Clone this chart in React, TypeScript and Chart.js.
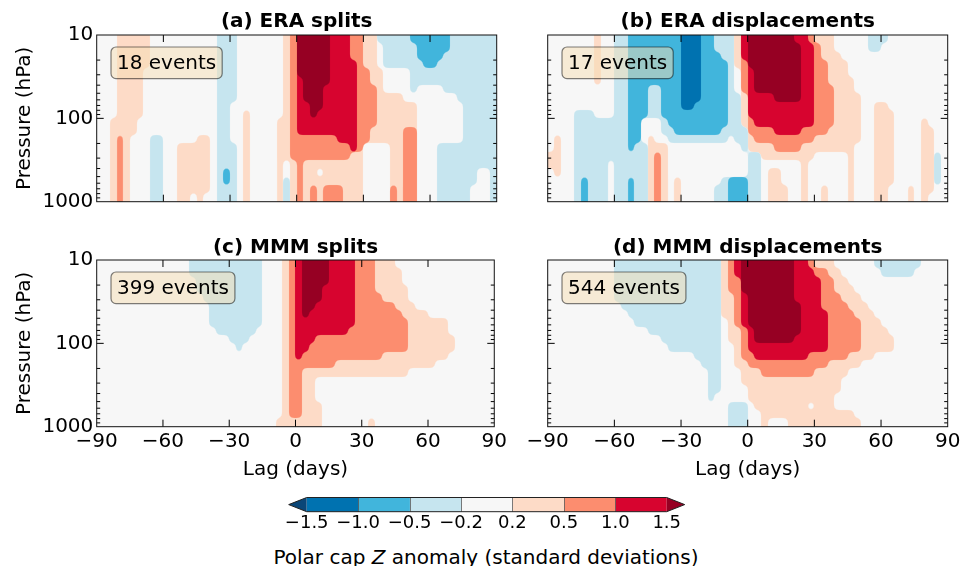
import React, { useEffect, useRef } from "react";
import { Chart, registerables } from "chart.js";

Chart.register(...registerables);
Chart.defaults.font.family = '"DejaVu Sans", sans-serif';
Chart.defaults.color = "#000";

// ---------------- data ----------------
// lag bin edges (days)
const LAG_EDGES = [
  -90, -87, -84, -81, -78, -75, -72, -69, -66, -63, -60, -57, -54, -51, -48, -45, -42, -39, -36, -33,
  -30, -27, -24, -21, -18, -15, -12, -9, -6, -3, 0, 3, 6, 9, 12, 15, 18, 21, 24, 27,
  30, 33, 36, 39, 42, 45, 48, 51, 54, 57, 60, 63, 66, 69, 72, 75, 78, 81, 84, 87, 90,
];
// pressure bin edges (hPa), top to bottom
const PRESSURE_EDGES = [
  10, 12.59, 15.85, 19.95, 25.12, 31.62, 39.81, 50.12, 63.1, 79.43, 100,
  125.9, 158.5, 199.5, 251.2, 316.2, 398.1, 501.2, 631, 794.3, 1000,
];
const LAG_TICKS = [-90, -60, -30, 0, 30, 60, 90];
const PRESSURE_TICKS = [10, 20, 30, 40, 50, 60, 70, 80, 90, 100, 200, 300, 400, 500, 600, 700, 800, 900, 1000];
const PRESSURE_LABELED = [10, 100, 1000];

// anomaly classes: D <-1.5, C -1.5..-1, B -1..-0.5, A -0.5..-0.2, . neutral, a 0.2..0.5, b 0.5..1, c 1..1.5, d >1.5
const LEVEL_CODES = ["D", "C", "B", "A", ".", "a", "b", "c", "d"];
const LEVEL_COLORS = ["#0a4677", "#0072b0", "#41b5dc", "#c6e5ef", "#f7f7f7", "#fddbc7", "#fc8d6f", "#d7042f", "#960023"];
const CBAR_TICK_LABELS = ["\u22121.5", "\u22121.0", "\u22120.5", "\u22120.2", "0.2", "0.5", "1.0", "1.5"];

const PANEL_TITLES = ["(a) ERA splits", "(b) ERA displacements", "(c) MMM splits", "(d) MMM displacements"];
const EVENT_COUNTS = [18, 17, 399, 544];

// each entry = one lag column, run-length coded from 10 hPa (top) down to 1000 hPa
const ERA_SPLITS = [
  "20.", "20.", "10. 10a", "12a 8b", "20a", "12a 8.", "10a 10.", "4a 16.", "12. 8A", "12. 8A",
  "20.", "20.", "13. 7a", "13. 7a", "13. 6a 1.", "12. 8a", "12. 7a 1.", "20.", "20A", "16A 2B 2A",
  "8A 5. 7A", "20.", "9. 11a", "20.", "20.", "20.", "20.", "10. 10a", "15a 2. 3A", "15b 5a",
  "5d 7c 8b", "8d 4c 3b 5a", "10d 2c 3b 3a 2b", "9d 3c 3b 1a 1. 3a", "6d 6c 3b 3a 2b", "12c 3b 3a 2b", "13c 2b 3a 2b", "13c 2b 5a", "3b 11c 6a", "14b 6a",
  "4a 9b 7.", "6a 5b 2a 7.", "1A 3. 9a 7.", "4A 3. 6a 7.", "4A 3. 11a 2b", "4A 3. 13a", "4A 4. 3a 9b", "1B 6A 1. 3a 9b", "3B 3A 14.", "4B 2A 14.",
  "4B 2A 14.", "3B 3A 7. 7A", "2B 5A 6. 7A", "7A 6. 7A", "8A 5. 7A", "20A", "18A 2.", "16A 4.", "16A 4.", "20A",
];
const ERA_DISPLACEMENTS = [
  "14. 2a 4.", "12. 5a 3.", "20.", "20.", "9. 11A", "9. 8A 3B", "9. 11A", "6a 4. 10A", "10. 10A", "10. 5A 5.",
  "20A", "20A", "14B 3A 3B", "13B 7A", "10B 3. 7A", "6B 4A 2. 8a", "6B 4A 3. 1a 6b", "10B 2A 1. 7a", "11B 2A 7.", "12B 1A 4. 3a",
  "9C 3B 1A 7.", "9C 3B 1A 7.", "8C 4B 1A 7.", "12B 1A 7.", "12B 1A 7.", "2A 10B 1A 5. 2A", "3A 8B 2A 4. 3A", "12A 5. 3B", "4a 3. 6A 4. 3B", "3c 4b 4a 3A 3. 3B",
  "4d 6c 2b 2a 6A", "7d 4c 2b 1a 6A", "7d 4c 2b 2a 5.", "7d 4c 2b 2a 1. 4a", "8d 4c 2b 1a 1. 4a", "8d 4c 2b 1a 3. 2a", "8d 4c 2b 1a 5.", "1c 7d 4c 2b 1a 5.", "11c 2b 7a", "1b 10c 2b 2a 5.",
  "1a 11b 2a 6.", "3a 9b 2a 4. 2a", "6a 5b 3a 6.", "2. 12a 6.", "3. 11a 6.", "5. 15a", "7. 6a 7.", "20.", "2A 18.", "2A 6. 12a",
  "1A 7. 12a", "9. 9a 2.", "20.", "20.", "18. 2a", "20.", "10. 10a", "11. 8a 1.", "14. 4A 2.", "20.",
];
const MMM_SPLITS = [
  "20.", "20.", "20.", "20.", "20.", "20.", "20.", "20.", "20.", "20.",
  "20.", "20.", "20.", "20.", "2A 18.", "4A 16.", "5A 15.", "8A 12.", "9A 11.", "9A 11.",
  "10A 10.", "11A 9.", "10A 10.", "9A 11.", "8A 12.", "20.", "20.", "19. 1a", "20a", "19b 1a",
  "12c 7b 1a", "7d 4c 2b 7a", "6d 4c 3b 7a", "5d 4c 4b 1a 3. 3a", "3d 6c 4b 1a 6.", "9c 4b 1a 6.", "9c 3b 2a 6.", "9c 3b 2a 6.", "8c 4b 2a 6.", "12b 2a 6.",
  "12b 2a 6.", "12b 2a 5. 1a", "4a 8b 2a 6.", "5a 6b 3a 6.", "5a 6b 3a 6.", "1. 5a 5b 3a 6.", "3. 4a 4b 3a 6.", "5. 8a 7.", "6. 7a 7.", "6. 7a 7.",
  "7. 6a 7.", "7. 5a 8.", "7. 5a 8.", "9. 2a 9.", "20.", "20.", "20.", "20.", "20.", "20.",
];
const MMM_DISPLACEMENTS = [
  "20.", "20.", "20.", "20.", "20.", "20.", "20.", "20.", "20.", "20.",
  "5A 15.", "6A 14.", "7A 13.", "8A 12.", "8A 12.", "9A 11.", "9A 11.", "10A 10.", "11A 9.", "11A 9.",
  "11A 9.", "11A 9.", "12A 8.", "13A 7.", "17A 3.", "16A 4.", "7a 13.", "4b 6a 7. 3A", "2c 6b 5a 4. 3A", "4d 4c 4b 3a 2. 3A",
  "8d 3c 2b 4a 3.", "10d 2c 1b 5a 2.", "10d 2c 2b 6a", "10d 2c 2b 5a 1.", "10d 2c 2b 5a 1.", "10d 2c 2b 5a 1.", "10d 2c 2b 6a", "5c 4d 3c 2b 6a", "12c 2b 6a", "1b 10c 3b 3a 1. 2a",
  "1a 1b 9c 2b 7a", "1a 5b 5c 2b 7a", "2a 10b 8a", "1. 3a 8b 4a 2. 2a", "2. 3a 7b 2a 4. 2a", "3. 3a 5b 2a 5. 2a", "4. 3a 4b 2a 6. 1a", "5. 7a 8.", "6. 6a 8.", "1A 6. 4a 9.",
  "2A 6. 3a 9.", "2A 7. 2a 9.", "2A 18.", "2A 18.", "2A 18.", "1A 19.", "20.", "20.", "20.", "20.",
];

// ---------------- helpers ----------------
function decodeColumns(cols: string[]): string[][] {
  return cols.map((s) => {
    const out: string[] = [];
    s.trim().split(/\s+/).forEach((tok) => {
      const m = tok.match(/^(\d+)(.)$/);
      if (m) for (let k = 0; k < parseInt(m[1], 10); k++) out.push(m[2]);
    });
    return out;
  });
}

function hexToRgb(h: string): number[] {
  const n = parseInt(h.slice(1), 16);
  return [(n >> 16) & 255, (n >> 8) & 255, n & 255];
}

const fmtLag = (v: number) => (v < 0 ? "\u2212" + Math.abs(v) : String(v));

// paints the binned field: cells placed via the chart scales, each class boundary softened like a filled contour
function paintField(chart: any, grid: string[][]) {
  const { ctx, chartArea: ca, scales } = chart;
  const x = scales.x;
  const y = scales.y;
  const W = chart.width;
  const H = chart.height;
  const ext = 16;
  const nx = LAG_EDGES.length - 1;
  const ny = PRESSURE_EDGES.length - 1;
  const xe = LAG_EDGES.map((v, i) =>
    i === 0 ? Math.floor(ca.left) - ext : i === nx ? Math.ceil(ca.right) + ext : Math.round(x.getPixelForValue(v))
  );
  const ye = PRESSURE_EDGES.map((v, j) =>
    j === 0 ? Math.floor(ca.top) - ext : j === ny ? Math.ceil(ca.bottom) + ext : Math.round(y.getPixelForValue(v))
  );
  const mask = document.createElement("canvas");
  mask.width = W;
  mask.height = H;
  const mctx = mask.getContext("2d") as CanvasRenderingContext2D;
  const blur = document.createElement("canvas");
  blur.width = W;
  blur.height = H;
  const bctx = blur.getContext("2d", { willReadFrequently: true }) as CanvasRenderingContext2D;
  const layer = document.createElement("canvas");
  layer.width = W;
  layer.height = H;
  const lctx = layer.getContext("2d") as CanvasRenderingContext2D;

  ctx.save();
  ctx.beginPath();
  ctx.rect(ca.left, ca.top, ca.width, ca.height);
  ctx.clip();
  ctx.fillStyle = LEVEL_COLORS[4];
  ctx.fillRect(ca.left, ca.top, ca.width, ca.height);
  const order = [5, 6, 7, 8, 3, 2, 1, 0];
  for (const lv of order) {
    mctx.clearRect(0, 0, W, H);
    mctx.fillStyle = "#000";
    let any = false;
    grid.forEach((col, i) =>
      col.forEach((code, j) => {
        const k = LEVEL_CODES.indexOf(code);
        if (k < 0) return;
        const inside = lv > 4 ? k >= lv : k <= lv;
        if (inside) {
          any = true;
          mctx.fillRect(xe[i], ye[j], xe[i + 1] - xe[i], ye[j + 1] - ye[j]);
        }
      })
    );
    if (!any) continue;
    bctx.clearRect(0, 0, W, H);
    bctx.filter = "blur(2.8px)";
    bctx.drawImage(mask, 0, 0);
    bctx.filter = "none";
    const img = bctx.getImageData(0, 0, W, H);
    const d = img.data;
    const [r, g, b] = hexToRgb(LEVEL_COLORS[lv]);
    for (let p = 0; p < d.length; p += 4) {
      const a = d[p + 3];
      const t = Math.max(0, Math.min(255, (a - 128) * 6 + 128));
      d[p] = r;
      d[p + 1] = g;
      d[p + 2] = b;
      d[p + 3] = t;
    }
    lctx.clearRect(0, 0, W, H);
    lctx.putImageData(img, 0, 0);
    ctx.drawImage(layer, 0, 0);
  }
  ctx.restore();
}

type PanelSpec = {
  idx: number;
  cols: string[];
  left: number;
  top: number;
  width: number;
  height: number;
  yWidth: number;
  xHeight: number;
  padRight: number;
  titlePad: { top: number; bottom: number };
  showX: boolean;
  showY: boolean;
};

const PANELS: PanelSpec[] = [
  { idx: 0, cols: ERA_SPLITS, left: 0, top: 0, width: 510, height: 222, yWidth: 96.7, xHeight: 20.3, padRight: 13.3, titlePad: { top: 10, bottom: 1 }, showX: false, showY: true },
  { idx: 1, cols: ERA_DISPLACEMENTS, left: 500, top: 0, width: 472, height: 222, yWidth: 47.7, xHeight: 20.3, padRight: 24.3, titlePad: { top: 10, bottom: 1 }, showX: false, showY: false },
  { idx: 2, cols: MMM_SPLITS, left: 0, top: 225, width: 510, height: 257, yWidth: 96.7, xHeight: 55.3, padRight: 13.3, titlePad: { top: 10.5, bottom: 0.5 }, showX: true, showY: true },
  { idx: 3, cols: MMM_DISPLACEMENTS, left: 500, top: 225, width: 472, height: 257, yWidth: 47.7, xHeight: 55.3, padRight: 24.3, titlePad: { top: 10.5, bottom: 0.5 }, showX: true, showY: false },
];

function Panel({ spec }: { spec: PanelSpec }) {
  const ref = useRef<HTMLCanvasElement>(null);
  useEffect(() => {
    const grid = decodeColumns(spec.cols);
    const cellsPlugin = {
      id: "cells",
      beforeDatasetsDraw(chart: any) {
        paintField(chart, grid);
      },
    };
    const framePlugin = {
      id: "frame",
      afterDatasetsDraw(chart: any) {
        const { ctx, chartArea: ca, scales } = chart;
        const x = scales.x;
        const y = scales.y;
        ctx.save();
        ctx.strokeStyle = "#000";
        ctx.lineWidth = 1;
        ctx.beginPath();
        for (const t of x.ticks) {
          const px = x.getPixelForValue(t.value);
          if (px <= ca.left + 0.5 || px >= ca.right - 0.5) continue;
          ctx.moveTo(px, ca.bottom);
          ctx.lineTo(px, ca.bottom - 7);
          ctx.moveTo(px, ca.top);
          ctx.lineTo(px, ca.top + 7);
        }
        for (const t of y.ticks) {
          const py = y.getPixelForValue(t.value);
          if (py <= ca.top + 0.5 || py >= ca.bottom - 0.5) continue;
          const len = PRESSURE_LABELED.includes(t.value) ? 7 : 3.5;
          ctx.moveTo(ca.left, py);
          ctx.lineTo(ca.left + len, py);
          ctx.moveTo(ca.right, py);
          ctx.lineTo(ca.right - len, py);
        }
        ctx.stroke();
        ctx.strokeStyle = "#111";
        ctx.strokeRect(ca.left, ca.top, ca.width, ca.height);
        // events box
        const text = EVENT_COUNTS[spec.idx] + " events";
        ctx.font = '20px "DejaVu Sans", sans-serif';
        const w = ctx.measureText(text).width;
        const bx = ca.left + 14.3;
        const by = ca.top + 12;
        const bw = w + 12;
        const bh = 31.6;
        ctx.beginPath();
        ctx.roundRect(bx, by, bw, bh, 5);
        ctx.fillStyle = "rgba(245,222,179,0.5)";
        ctx.fill();
        ctx.strokeStyle = "rgba(0,0,0,0.5)";
        ctx.lineWidth = 1.2;
        ctx.stroke();
        ctx.fillStyle = "#000";
        ctx.textBaseline = "alphabetic";
        ctx.textAlign = "left";
        ctx.fillText(text, bx + 6, by + 21.6);
        ctx.restore();
      },
    };
    const chart = new Chart(ref.current as HTMLCanvasElement, {
      type: "scatter",
      data: { datasets: [{ data: [] }] },
      options: {
        animation: false,
        responsive: false,
        devicePixelRatio: 1,
        events: [],
        layout: { padding: { left: 0, right: spec.padRight, top: 0, bottom: 0 } },
        plugins: {
          legend: { display: false },
          tooltip: { enabled: false },
          title: {
            display: true,
            text: PANEL_TITLES[spec.idx],
            fullSize: false,
            font: { size: 20, weight: "bold" },
            color: "#000",
            padding: spec.titlePad,
          },
        },
        scales: {
          x: {
            type: "linear",
            min: -90,
            max: 90,
            afterBuildTicks: (s: any) => {
              s.ticks = LAG_TICKS.map((v) => ({ value: v }));
            },
            ticks: {
              display: spec.showX,
              autoSkip: false,
              maxRotation: 0,
              padding: 3,
              font: { size: 20 },
              color: "#000",
              callback: (v: any) => fmtLag(Number(v)),
            },
            grid: { display: false, drawTicks: false },
            border: { display: false },
            title: { display: spec.showX, text: "Lag (days)", font: { size: 20 }, color: "#000", padding: 0 },
            afterFit: (s: any) => {
              s.height = spec.xHeight;
            },
          },
          y: {
            type: "logarithmic",
            min: 10,
            max: 1000,
            reverse: true,
            afterBuildTicks: (s: any) => {
              s.ticks = PRESSURE_TICKS.map((v) => ({ value: v }));
            },
            ticks: {
              display: spec.showY,
              autoSkip: false,
              padding: 3.4,
              font: { size: 20 },
              color: "#000",
              callback: (v: any) => (PRESSURE_LABELED.includes(Number(v)) ? String(v) : ""),
            },
            grid: { display: false, drawTicks: false },
            border: { display: false },
            title: { display: spec.showY, text: "Pressure (hPa)", font: { size: 20 }, color: "#000", padding: { top: 12.5, bottom: 0 } },
            afterFit: (s: any) => {
              s.width = spec.yWidth;
            },
          },
        },
      } as any,
      plugins: [cellsPlugin, framePlugin],
    });
    return () => chart.destroy();
  }, [spec]);
  return (
    <canvas
      ref={ref}
      width={spec.width}
      height={spec.height}
      style={{ position: "absolute", left: spec.left, top: spec.top, width: spec.width, height: spec.height }}
    />
  );
}

function ColorBar() {
  const ref = useRef<HTMLCanvasElement>(null);
  useEffect(() => {
    const cbarPlugin = {
      id: "cbarDecor",
      afterDatasetsDraw(chart: any) {
        const { ctx, chartArea: ca, scales } = chart;
        const x = scales.x;
        const x0 = x.getPixelForValue(0);
        const x7 = x.getPixelForValue(LEVEL_COLORS.length - 2);
        const ext = 0.05 * (x7 - x0);
        const mid = (ca.top + ca.bottom) / 2;
        ctx.save();
        ctx.fillStyle = LEVEL_COLORS[0];
        ctx.beginPath();
        ctx.moveTo(x0, ca.top);
        ctx.lineTo(x0 - ext, mid);
        ctx.lineTo(x0, ca.bottom);
        ctx.closePath();
        ctx.fill();
        ctx.fillStyle = LEVEL_COLORS[LEVEL_COLORS.length - 1];
        ctx.beginPath();
        ctx.moveTo(x7, ca.top);
        ctx.lineTo(x7 + ext, mid);
        ctx.lineTo(x7, ca.bottom);
        ctx.closePath();
        ctx.fill();
        // boundary marks
        ctx.strokeStyle = "rgba(90,90,90,0.8)";
        ctx.lineWidth = 1;
        ctx.beginPath();
        for (let k = 1; k < LEVEL_COLORS.length - 2; k++) {
          const px = Math.round(x.getPixelForValue(k)) + 0.5;
          ctx.moveTo(px, ca.bottom);
          ctx.lineTo(px, ca.top);
        }
        ctx.stroke();
        // outline
        ctx.strokeStyle = "#222";
        ctx.lineWidth = 1;
        ctx.beginPath();
        ctx.moveTo(x0, ca.top);
        ctx.lineTo(x7, ca.top);
        ctx.lineTo(x7 + ext, mid);
        ctx.lineTo(x7, ca.bottom);
        ctx.lineTo(x0, ca.bottom);
        ctx.lineTo(x0 - ext, mid);
        ctx.closePath();
        ctx.stroke();
        ctx.restore();
      },
    };
    const bins = LEVEL_COLORS.slice(1, LEVEL_COLORS.length - 1);
    const chart = new Chart(ref.current as HTMLCanvasElement, {
      type: "bar",
      data: {
        labels: ["cbar"],
        datasets: bins.map((c) => ({
          data: [1],
          backgroundColor: c,
          borderWidth: 0,
          barPercentage: 1,
          categoryPercentage: 1,
          stack: "cb",
        })),
      },
      options: {
        animation: false,
        responsive: false,
        devicePixelRatio: 1,
        events: [],
        indexAxis: "y",
        layout: { padding: { left: 36.7, right: 33.3, top: 7.5, bottom: 0 } },
        plugins: { legend: { display: false }, tooltip: { enabled: false }, title: { display: false } },
        scales: {
          x: {
            type: "linear",
            min: 0,
            max: bins.length,
            stacked: true,
            afterBuildTicks: (s: any) => {
              s.ticks = CBAR_TICK_LABELS.map((_, k) => ({ value: k }));
            },
            ticks: {
              autoSkip: false,
              maxRotation: 0,
              padding: 3,
              font: { size: 18, lineHeight: 1 },
              color: "#000",
              callback: (v: any) => CBAR_TICK_LABELS[Number(v)],
            },
            grid: { display: false, drawTicks: false },
            border: { display: false },
            afterFit: (s: any) => {
              s.height = 22.3;
            },
          },
          y: { type: "category", display: false, stacked: true },
        },
      } as any,
      plugins: [cbarPlugin],
    });
    return () => chart.destroy();
  }, []);
  return (
    <canvas ref={ref} width={430} height={44} style={{ position: "absolute", left: 270, top: 490, width: 430, height: 44 }} />
  );
}

export default function App() {
  return (
    <div
      style={{
        position: "absolute",
        left: 0,
        top: 0,
        width: 972,
        height: 566,
        background: "#fff",
        overflow: "hidden",
        fontFamily: '"DejaVu Sans", sans-serif',
      }}
    >
      {PANELS.map((p) => (
        <Panel key={p.idx} spec={p} />
      ))}
      <ColorBar />
      <div
        style={{
          position: "absolute",
          left: 0,
          top: 544.5,
          width: 972,
          textAlign: "center",
          fontSize: 20,
          lineHeight: "24px",
          color: "#000",
          whiteSpace: "nowrap",
        }}
      >
        Polar cap <span style={{ fontStyle: "italic" }}>Z</span> anomaly (standard deviations)
      </div>
    </div>
  );
}
